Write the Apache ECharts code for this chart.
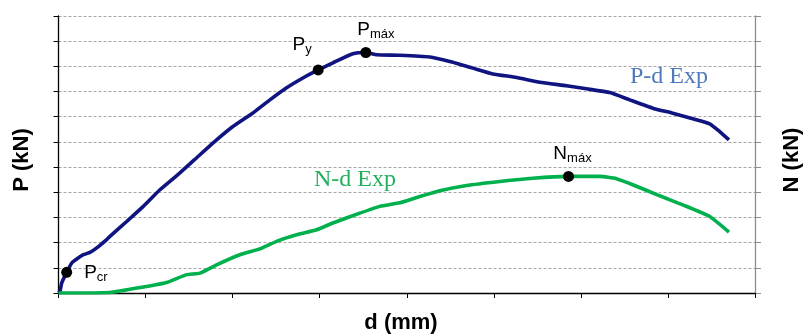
<!DOCTYPE html>
<html><head><meta charset="utf-8">
<script src="https://cdn.jsdelivr.net/npm/echarts@6/dist/echarts.min.js"></script>
<style>html,body{margin:0;padding:0;background:#fff}#c{width:803px;height:336px}</style>
</head><body><div id="c"></div>
<script>
// P-d curve (d in axis units, P in axis units)
const pdX = [0,0.017,0.037,0.094,0.152,0.209,0.285,0.362,0.439,0.553,0.591,0.783,0.974,1.165,1.395,1.625,1.816,2.003,2.233,2.428,2.620,2.807,2.983,3.152,3.381,3.530,3.653,3.921,4.265,4.495,4.759,4.989,5.261,5.528,5.835,6.064,6.332,6.561,6.825,7.055,7.285,7.480,7.595,7.701];
const pdY = [0,0.06,0.40,0.82,1.19,1.35,1.52,1.61,1.79,2.12,2.25,2.84,3.44,4.10,4.77,5.49,6.08,6.61,7.15,7.67,8.15,8.54,8.86,9.14,9.50,9.55,9.46,9.44,9.37,9.19,8.93,8.70,8.56,8.37,8.23,8.11,7.96,7.67,7.34,7.14,6.92,6.72,6.41,6.08];
// N-d curve
const ndX = [0,0.591,0.974,1.242,1.472,1.625,1.816,2.084,2.313,2.505,2.735,2.964,3.152,3.461,3.691,3.921,4.150,4.380,4.687,5.069,5.448,5.858,6.217,6.409,6.596,6.906,7.170,7.480,7.701];
const ndY = [0,0.02,0.24,0.42,0.73,0.79,1.12,1.52,1.75,2.05,2.31,2.51,2.78,3.17,3.44,3.58,3.83,4.06,4.27,4.43,4.56,4.63,4.63,4.54,4.30,3.86,3.50,3.04,2.42];
// key points
const keyNames = ['cr','y','máx'];
const keyX = [0.094,2.983,3.530];
const keyY = [0.82,8.86,9.55];
const nKeyX = [5.858];
const nKeyY = [4.63];
const xTicks = [0,1,2,3,4,5,6,7,8];
const yTicks = [0,1,2,3,4,5,6,7,8,9,10,11];

const zip = (a,b)=>a.map((v,i)=>[v,b[i]]);
const chart = echarts.init(document.getElementById('c'));
const FONT = 'Liberation Sans';
const rich = {
  p:{fontFamily:FONT,fontSize:19,color:'#000'},
  s:{fontFamily:FONT,fontSize:13,color:'#000',padding:[10,0,0,0]}
};
const keyLabelPos = [
  {position:'right', distance:12, offset:[0,0]},
  {position:'top', distance:6, offset:[-16,-2]},
  {position:'top', distance:6, offset:[10,0]}
];
chart.setOption({
  animation:false,
  grid:{left:58.5,right:48,top:16,bottom:43,containLabel:false},
  xAxis:{type:'value',min:0,max:8,interval:1,
    axisLine:{show:true,lineStyle:{color:'#000',width:1.3}},
    axisTick:{show:true,length:5,lineStyle:{color:'#000'}},
    axisLabel:{show:false},splitLine:{show:false}},
  yAxis:[
    {type:'value',min:0,max:11,interval:1,position:'left',
      axisLine:{show:true,lineStyle:{color:'#000',width:1.3}},
      axisTick:{show:true,length:5,lineStyle:{color:'#000'}},
      axisLabel:{show:false},
      splitLine:{show:true,lineStyle:{color:'#a6a6a6',type:[3,2],width:1}}},
    {type:'value',min:0,max:11,interval:1,position:'right',
      axisLine:{show:true,lineStyle:{color:'#8c8c8c',width:1.3}},
      axisTick:{show:true,length:6,lineStyle:{color:'#8c8c8c'}},
      axisLabel:{show:false},splitLine:{show:false}}
  ],
  series:[
    {type:'line',data:zip(pdX,pdY),showSymbol:false,smooth:0.15,
      lineStyle:{color:'#0f1480',width:3.6}},
    {type:'line',yAxisIndex:1,data:zip(ndX,ndY),showSymbol:false,smooth:0.15,
      lineStyle:{color:'#00b04c',width:3.6}},
    {type:'scatter',symbolSize:11,itemStyle:{color:'#000',opacity:1},z:5,
      data:keyX.map((x,i)=>({value:[x,keyY[i]],
        label:Object.assign({show:true,color:'#000',formatter:'{p|P}{s|'+keyNames[i]+'}',rich:rich},keyLabelPos[i])}))},
    {type:'scatter',yAxisIndex:1,symbolSize:11,itemStyle:{color:'#000',opacity:1},z:5,
      data:nKeyX.map((x,i)=>({value:[x,nKeyY[i]],
        label:{show:true,color:'#000',position:'top',distance:6,offset:[4,0],formatter:'{p|N}{s|máx}',rich:rich}}))}
  ],
  graphic:[
    {type:'text',x:22,y:160,rotation:Math.PI/2,style:{text:'P (kN)',font:'bold 22px "Liberation Sans"',fill:'#000',textAlign:'center',textVerticalAlign:'middle'}},
    {type:'text',x:792,y:160,rotation:Math.PI/2,style:{text:'N (kN)',font:'bold 22px "Liberation Sans"',fill:'#000',textAlign:'center',textVerticalAlign:'middle'}},
    {type:'text',x:401,y:323,style:{text:'d (mm)',font:'bold 22px "Liberation Sans"',fill:'#000',textAlign:'center',textVerticalAlign:'middle'}},
    {type:'text',x:669,y:77,style:{text:'P-d Exp',font:'24px "Liberation Serif"',fill:'#4f79b8',textAlign:'center',textVerticalAlign:'middle'}},
    {type:'text',x:355,y:180,style:{text:'N-d Exp',font:'24px "Liberation Serif"',fill:'#22b060',textAlign:'center',textVerticalAlign:'middle'}}
  ]
});
</script></body></html>
